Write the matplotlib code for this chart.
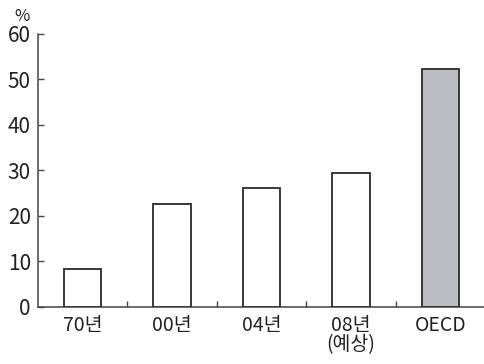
import matplotlib
matplotlib.use("Agg")
import matplotlib.pyplot as plt
import numpy as np

plt.rcParams['font.family'] = ['Noto Sans CJK KR', 'DejaVu Sans']
plt.rcParams['font.weight'] = 'light'

categories = ['70년', '00년', '04년', '08년\n(예상)', 'OECD']
values = [8.3, 22.6, 26.2, 29.5, 52.3]
fills = ['white', 'white', 'white', 'white', '#bcbdc1']

fig = plt.figure(figsize=(4.84, 3.64), dpi=100)
ax = fig.add_axes([0.078, 0.157, 0.925, 0.750])

x = np.arange(len(categories))
ax.bar(x, values, width=0.42, color=fills, edgecolor='#2a2a2a', linewidth=1.3, zorder=3)

ax.set_xlim(-0.5, len(categories) - 0.5)
ax.set_ylim(0, 60)
ax.set_yticks(range(0, 61, 10))
ax.tick_params(axis='y', direction='in', length=4, width=1, color='#444444',
               labelsize=15, pad=5, labelcolor='#222222')

# category labels centred under bars, ticks on the boundaries between them
ax.set_xticks(x)
ax.set_xticklabels(categories, fontsize=14, color='#222222', linespacing=0.9)
ax.tick_params(axis='x', length=0, pad=6)
ax.set_xticks(np.arange(0.5, len(categories) - 0.5), minor=True)
ax.tick_params(axis='x', which='minor', direction='in', length=4, width=1, color='#444444')

for side in ['top', 'right']:
    ax.spines[side].set_visible(False)
for side in ['left', 'bottom']:
    ax.spines[side].set_color('#444444')
    ax.spines[side].set_linewidth(1.1)

fig.text(0.045, 0.955, '%', fontsize=12, ha='center', va='center', color='#222222')

fig.savefig('out.png', dpi=100)
